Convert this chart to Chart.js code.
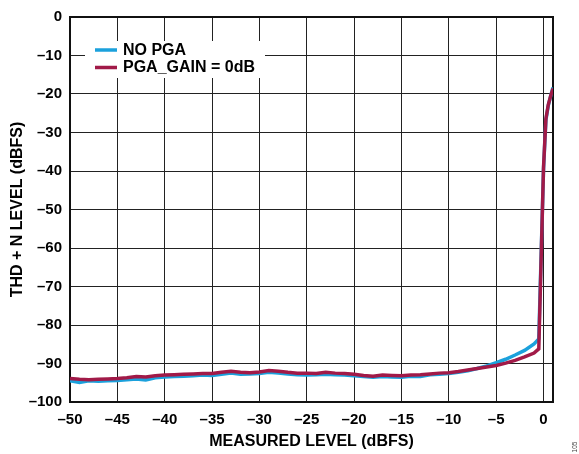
<!DOCTYPE html>
<html>
<head>
<meta charset="utf-8">
<title>THD + N Level vs Measured Level</title>
<script src="https://cdn.jsdelivr.net/npm/chart.js@4.4.0/dist/chart.umd.min.js"></script>
<style>
  html, body { margin: 0; padding: 0; background: #fff; }
  #wrap { width: 579px; height: 454px; }
</style>
</head>
<body>
<div id="wrap"><canvas id="thdChart" width="579" height="454"></canvas></div>
<script>
// measured level (dBFS)
const levels = [
  -50, -49, -48, -47, -46, -45, -44, -43, -42, -41,
  -40, -39, -38, -37, -36, -35, -34, -33, -32, -31,
  -30, -29, -28, -27, -26, -25, -24, -23, -22, -21,
  -20, -19, -18, -17, -16, -15, -14, -13, -12, -11,
  -10, -9, -8, -7, -6, -5, -4, -3, -2, -1,
  -0.5, 0, 0.25, 0.5, 0.75, 1
];

// THD + N (dBFS), no PGA
const noPga = [
  -94.5, -94.9, -94.5, -94.6, -94.5, -94.4, -94.2, -94.0, -94.3, -93.7,
  -93.5, -93.4, -93.3, -93.2, -93.0, -93.1, -92.8, -92.5, -92.8, -92.7,
  -92.6, -92.3, -92.5, -92.7, -92.9, -93.0, -92.9, -92.8, -92.9, -93.0,
  -93.2, -93.4, -93.6, -93.4, -93.5, -93.6, -93.3, -93.4, -92.9, -92.8,
  -92.6, -92.3, -91.9, -91.3, -90.6, -89.8, -88.9, -87.8, -86.6, -84.9,
  -83.6, -39.5, -26.8, -23.0, -20.6, -18.3
];

// THD + N (dBFS), PGA_GAIN = 0dB
const pgaGain0dB = [
  -93.9, -94.1, -94.2, -94.1, -94.0, -93.9, -93.7, -93.4, -93.5, -93.2,
  -93.0, -92.9, -92.8, -92.7, -92.6, -92.6, -92.3, -92.0, -92.3, -92.4,
  -92.2, -91.8, -92.0, -92.3, -92.5, -92.5, -92.6, -92.3, -92.5, -92.6,
  -92.8, -93.1, -93.3, -93.0, -93.1, -93.2, -93.0, -92.9, -92.7, -92.5,
  -92.4, -92.1, -91.7, -91.3, -90.9, -90.5, -89.9, -89.2, -88.3, -87.3,
  -86.2, -39.0, -26.5, -22.8, -20.5, -18.6
];

const xTickValues = [-50, -45, -40, -35, -30, -25, -20, -15, -10, -5, 0];
const yTickValues = [0, -10, -20, -30, -40, -50, -60, -70, -80, -90, -100];

const BLUE = '#1ba1dc';
const MAROON = '#a11a48';
const FONT = '"Liberation Sans", Arial, Helvetica, sans-serif';

// ADI style minus sign
const fmt = v => (v < 0 ? '\u2013' + Math.abs(v) : String(v));
const toPoints = ys => levels.map((x, i) => ({ x: x, y: ys[i] }));

// frame round the plot area
const framePlugin = {
  id: 'frame',
  beforeDatasetsDraw(chart) {
    const a = chart.chartArea, ctx = chart.ctx;
    ctx.save();
    ctx.strokeStyle = '#111';
    ctx.lineWidth = 2;
    ctx.strokeRect(a.left, a.top, a.right - a.left, a.bottom - a.top);
    ctx.restore();
  }
};

// legend boxed inside the plot, top left
const insideLegend = {
  id: 'insideLegend',
  beforeDatasetsDraw(chart) {
    const a = chart.chartArea, ctx = chart.ctx;
    const x0 = a.left + 15, y0 = a.top + 24;
    ctx.save();
    ctx.fillStyle = '#fff';
    ctx.fillRect(x0, y0, 180, 37);
    const items = [
      { text: 'NO PGA', color: BLUE },
      { text: 'PGA_GAIN = 0dB', color: MAROON }
    ];
    ctx.font = 'bold 16px ' + FONT;
    ctx.textBaseline = 'middle';
    items.forEach((it, i) => {
      const y = y0 + 9 + i * 17.5;
      ctx.strokeStyle = it.color;
      ctx.lineWidth = 3.5;
      ctx.beginPath();
      ctx.moveTo(x0 + 10, y);
      ctx.lineTo(x0 + 32, y);
      ctx.stroke();
      ctx.fillStyle = '#000';
      ctx.fillText(it.text, x0 + 38, y + 0.5);
    });
    ctx.restore();
  }
};

// tiny figure number at lower right
const figNumber = {
  id: 'figNumber',
  afterDraw(chart) {
    const ctx = chart.ctx;
    ctx.save();
    ctx.translate(575, 447);
    ctx.rotate(-Math.PI / 2);
    ctx.font = '6.5px ' + FONT;
    ctx.fillStyle = '#444';
    ctx.textAlign = 'center';
    ctx.textBaseline = 'middle';
    ctx.fillText('105', 0, 0);
    ctx.restore();
  }
};

new Chart(document.getElementById('thdChart'), {
  type: 'scatter',
  data: {
    datasets: [
      {
        label: 'PGA_GAIN = 0dB',
        data: toPoints(pgaGain0dB),
        showLine: true,
        borderColor: MAROON,
        borderWidth: 3.5,
        pointRadius: 0,
        tension: 0
      },
      {
        label: 'NO PGA',
        data: toPoints(noPga),
        showLine: true,
        borderColor: BLUE,
        borderWidth: 3.5,
        pointRadius: 0,
        tension: 0
      }
    ]
  },
  options: {
    responsive: false,
    animation: false,
    layout: { padding: { left: 0, right: 26, top: 15, bottom: 0 } },
    plugins: {
      legend: { display: false },
      tooltip: { enabled: false }
    },
    scales: {
      x: {
        type: 'linear',
        min: -50,
        max: 1,
        afterBuildTicks: s => { s.ticks = xTickValues.map(v => ({ value: v })); },
        afterFit: s => { s.height = 52; },
        grid: { color: '#222', lineWidth: 1, drawTicks: false },
        border: { display: false },
        ticks: {
          padding: 9,
          color: '#000',
          font: { family: FONT, size: 15, weight: 'bold' },
          callback: v => fmt(v)
        },
        title: {
          display: true,
          text: 'MEASURED LEVEL (dBFS)',
          color: '#000',
          font: { family: FONT, size: 16, weight: 'bold' },
          padding: { top: 0, bottom: 3 }
        }
      },
      y: {
        type: 'linear',
        min: -100,
        max: 0,
        afterBuildTicks: s => { s.ticks = yTickValues.map(v => ({ value: v })); },
        afterFit: s => { s.width = 70; },
        grid: { color: '#222', lineWidth: 1, drawTicks: false },
        border: { display: false },
        ticks: {
          padding: 8,
          color: '#000',
          font: { family: FONT, size: 15, weight: 'bold' },
          callback: v => fmt(v)
        },
        title: {
          display: true,
          text: 'THD + N LEVEL (dBFS)',
          color: '#000',
          font: { family: FONT, size: 16, weight: 'bold' },
          padding: { top: 8, bottom: 0 }
        }
      }
    }
  },
  plugins: [framePlugin, insideLegend, figNumber]
});
</script>
</body>
</html>
